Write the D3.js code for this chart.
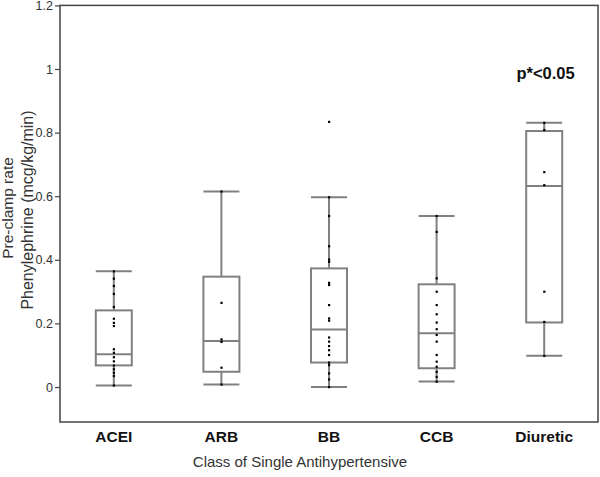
<!DOCTYPE html>
<html><head><meta charset="utf-8">
<script src="https://cdn.jsdelivr.net/npm/d3@7"></script>
<style>body{margin:0;background:#fff}svg{display:block}</style>
</head><body><div id="chart"></div>
<script>
const categories = ["ACEI", "ARB", "BB", "CCB", "Diuretic"];
const whiskerLow  = [0.005, 0.008, 0.0, 0.017, 0.098];
const q1          = [0.068, 0.048, 0.077, 0.059, 0.203];
const median      = [0.103, 0.145, 0.181, 0.169, 0.632];
const q3          = [0.241, 0.347, 0.373, 0.323, 0.805];
const whiskerHigh = [0.364, 0.615, 0.597, 0.538, 0.831];
const pointsACEI = [0.364, 0.341, 0.318, 0.293, 0.252, 0.215, 0.202, 0.192, 0.119, 0.108, 0.094, 0.081, 0.068, 0.056, 0.045, 0.035, 0.005];
const pointsARB = [0.615, 0.265, 0.15, 0.142, 0.061, 0.008];
const pointsBB = [0.834, 0.597, 0.538, 0.443, 0.401, 0.394, 0.328, 0.321, 0.258, 0.216, 0.209, 0.156, 0.143, 0.129, 0.116, 0.101, 0.077, 0.069, 0.043, 0.024, 0.0];
const pointsCCB = [0.538, 0.488, 0.342, 0.30, 0.258, 0.229, 0.203, 0.182, 0.164, 0.143, 0.101, 0.080, 0.064, 0.048, 0.032, 0.017];
const pointsDiuretic = [0.831, 0.808, 0.676, 0.635, 0.30, 0.205, 0.098];
const yTicks = [0, 0.2, 0.4, 0.6, 0.8, 1, 1.2];
const annotation = "p*<0.05";

const points = [pointsACEI, pointsARB, pointsBB, pointsCCB, pointsDiuretic];

(function () {
const W = 600, H = 477;
const mLeft = 60, mRight = 598, mTop = 5.4, mBottom = 422;
const svg = d3.select("#chart").append("svg").attr("width", W).attr("height", H)
  .style("font-family", "Arial, 'Liberation Sans', sans-serif");

const x = d3.scaleBand().domain(categories).range([mLeft, mRight]).padding(0);
const y = d3.scaleLinear().domain([-0.11, 1.2]).range([mBottom, mTop]);
const boxW = 36;

// frame
svg.append("rect").attr("x", mLeft).attr("y", mTop).attr("width", mRight - mLeft).attr("height", mBottom - mTop)
  .attr("fill", "none").attr("stroke", "#444").attr("stroke-width", 1.5);

// y axis
const yAxis = svg.append("g").attr("transform", `translate(${mLeft},0)`)
  .call(d3.axisLeft(y).tickValues(yTicks).tickFormat(d => String(+d.toFixed(1))).tickSize(5).tickSizeOuter(0));
yAxis.select(".domain").remove();
yAxis.selectAll("line").attr("stroke", "#444").attr("stroke-width", 1.2);
yAxis.selectAll("text").attr("fill", "#333").style("font-size", "12.5px").attr("x", -7);

// x axis labels
const xAxis = svg.append("g").attr("transform", `translate(0,${mBottom})`)
  .call(d3.axisBottom(x).tickSize(0).tickPadding(9));
xAxis.select(".domain").remove();
xAxis.selectAll("text").attr("fill", "#111").style("font-size", "15.5px").style("font-weight", "bold");

// axis titles
svg.append("text").attr("transform", "translate(13,208) rotate(-90)").attr("text-anchor", "middle")
  .attr("fill", "#333").style("font-size", "15.5px").text("Pre-clamp rate");
svg.append("text").attr("transform", "translate(32.5,210) rotate(-90)").attr("text-anchor", "middle")
  .attr("fill", "#333").style("font-size", "16px").text("Phenylephrine (mcg/kg/min)");
svg.append("text").attr("x", 300).attr("y", 467).attr("text-anchor", "middle")
  .attr("fill", "#333").style("font-size", "15px").text("Class of Single Antihypertensive");

// boxes
const stroke = "#808080";
categories.forEach((c, i) => {
  const cx = x(c) + x.bandwidth() / 2;
  const g = svg.append("g");
  g.append("line").attr("x1", cx).attr("x2", cx).attr("y1", y(whiskerHigh[i])).attr("y2", y(q3[i]))
    .attr("stroke", stroke).attr("stroke-width", 2);
  g.append("line").attr("x1", cx).attr("x2", cx).attr("y1", y(q1[i])).attr("y2", y(whiskerLow[i]))
    .attr("stroke", stroke).attr("stroke-width", 2);
  [whiskerHigh[i], whiskerLow[i]].forEach(v => {
    g.append("line").attr("x1", cx - boxW / 2).attr("x2", cx + boxW / 2).attr("y1", y(v)).attr("y2", y(v))
      .attr("stroke", stroke).attr("stroke-width", 2);
  });
  g.append("rect").attr("x", cx - boxW / 2).attr("y", y(q3[i])).attr("width", boxW)
    .attr("height", y(q1[i]) - y(q3[i])).attr("fill", "none").attr("stroke", stroke).attr("stroke-width", 2);
  g.append("line").attr("x1", cx - boxW / 2).attr("x2", cx + boxW / 2).attr("y1", y(median[i])).attr("y2", y(median[i]))
    .attr("stroke", stroke).attr("stroke-width", 2);
  g.selectAll("rect.pt").data(points[i]).enter().append("rect").attr("class", "pt")
    .attr("x", cx - 1).attr("y", d => y(d) - 1).attr("width", 2.2).attr("height", 2.2).attr("fill", "#000");
});

// annotation
svg.append("text").attr("x", 545.5).attr("y", 79).attr("text-anchor", "middle")
  .attr("fill", "#111").style("font-size", "16.5px").style("font-weight", "bold").text(annotation);
})();
</script></body></html>
